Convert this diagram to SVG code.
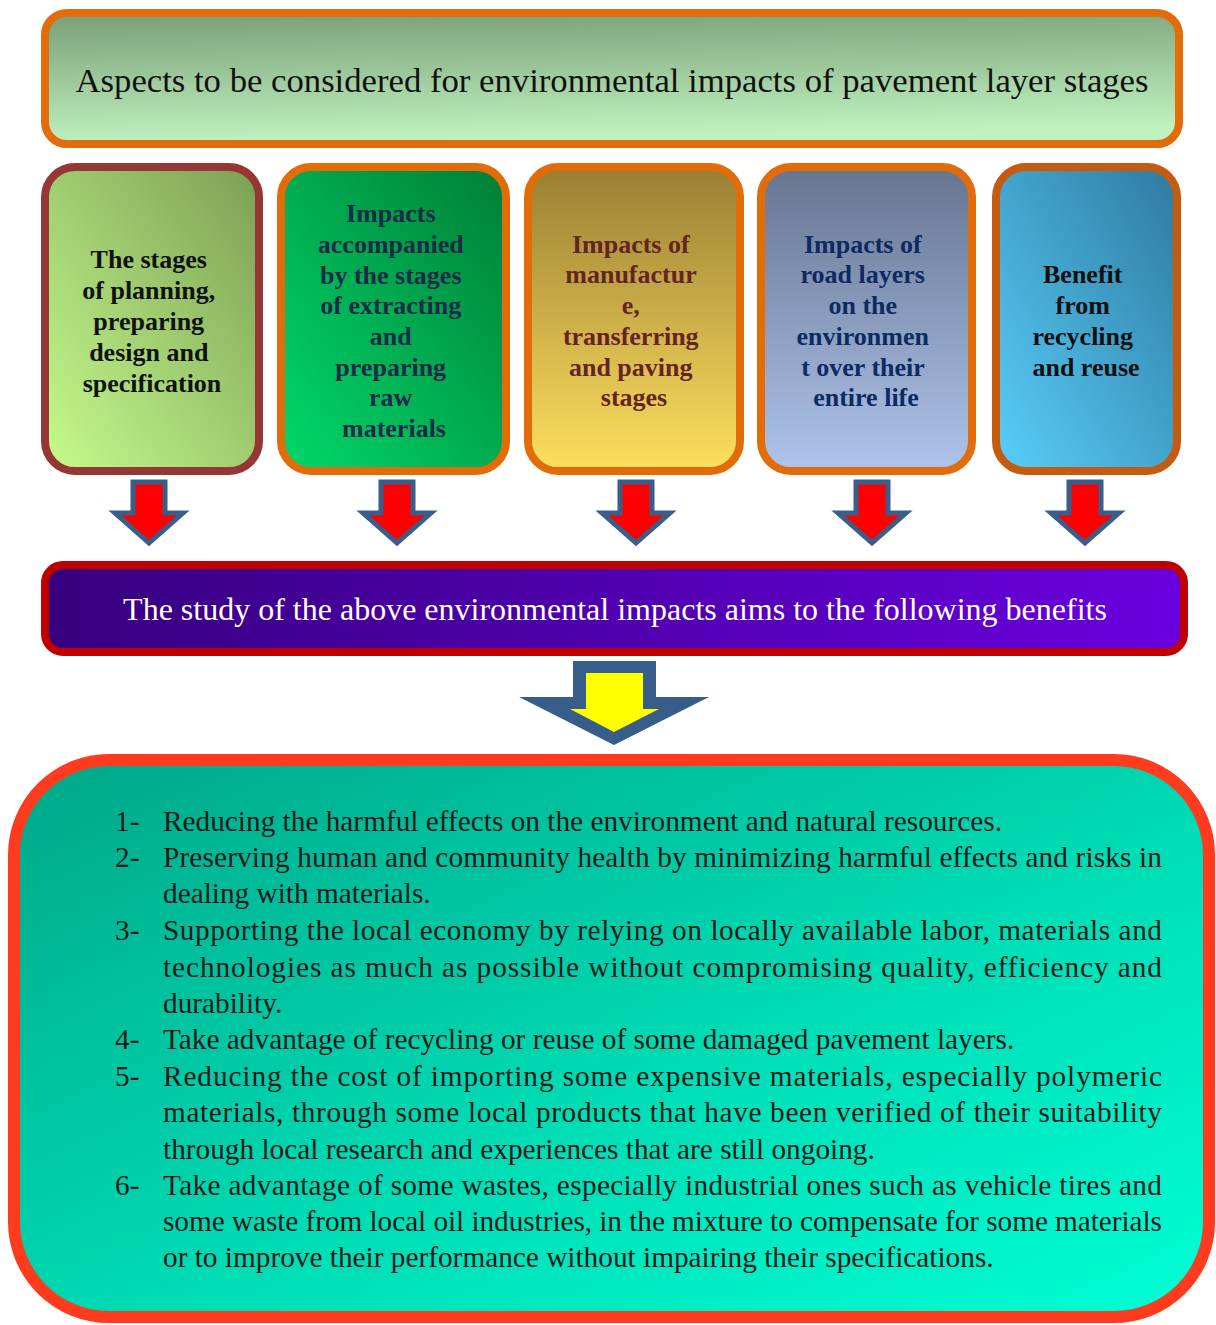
<svg xmlns="http://www.w3.org/2000/svg" width="1216" height="1325" viewBox="0 0 1216 1325">
  <defs>
    <linearGradient id="gHeader" x1="0" y1="0" x2="0.15" y2="1">
      <stop offset="0" stop-color="#7a9e77"/>
      <stop offset="1" stop-color="#c0f2c0"/>
    </linearGradient>
    <linearGradient id="gPlan" x1="0" y1="1" x2="1" y2="0">
      <stop offset="0" stop-color="#c6fb8c"/>
      <stop offset="1" stop-color="#7b9f55"/>
    </linearGradient>
    <linearGradient id="gRaw" x1="0" y1="1" x2="1" y2="0">
      <stop offset="0" stop-color="#00d96a"/>
      <stop offset="1" stop-color="#007e36"/>
    </linearGradient>
    <linearGradient id="gManu" x1="0" y1="0" x2="0" y2="1">
      <stop offset="0" stop-color="#9a7f34"/>
      <stop offset="1" stop-color="#ffdf5e"/>
    </linearGradient>
    <linearGradient id="gLife" x1="0" y1="0" x2="0" y2="1">
      <stop offset="0" stop-color="#66758f"/>
      <stop offset="1" stop-color="#aec4ec"/>
    </linearGradient>
    <linearGradient id="gReuse" x1="0" y1="1" x2="1" y2="0">
      <stop offset="0" stop-color="#58cefb"/>
      <stop offset="1" stop-color="#2f7a9e"/>
    </linearGradient>
    <linearGradient id="gStudy" x1="0" y1="0" x2="1" y2="0">
      <stop offset="0" stop-color="#36007e"/>
      <stop offset="1" stop-color="#6a00de"/>
    </linearGradient>
    <linearGradient id="gBenefits" x1="0" y1="0" x2="1" y2="1">
      <stop offset="0" stop-color="#00a688"/>
      <stop offset="0.55" stop-color="#00dcb4"/>
      <stop offset="1" stop-color="#00ffd6"/>
    </linearGradient>
  </defs>
  <style>
    .serif { font-family: "Liberation Serif", "Times New Roman", serif; }
    .box { stroke-width: 8; }
    .bold { font-family: "Liberation Serif", "Times New Roman", serif; font-weight: bold; font-size: 26px; text-anchor: middle; }
    .arrow-small { fill: #ff0000; stroke: #3a5e8a; stroke-width: 5; stroke-linejoin: miter; }
    .item { font-family: "Liberation Serif", "Times New Roman", serif; font-size: 29.3px; fill: #1a1a1a; }
  </style>

  <!-- title banner -->
  <g id="header">
    <rect x="45" y="13" width="1134" height="131" rx="22" fill="url(#gHeader)" stroke="#e36c0a" class="box"/>
    <text x="612" y="92" class="serif" font-size="34.7" text-anchor="middle" fill="#111">Aspects to be considered for environmental impacts of pavement layer stages</text>
  </g>

  <!-- five aspect boxes -->
  <g id="planning">
    <rect x="45" y="167" width="214" height="304" rx="30" fill="url(#gPlan)" stroke="#953735" class="box"/>
    <text class="bold" fill="#111">
      <tspan x="152" y="268">The stages</tspan>
      <tspan x="152" y="299">of planning,</tspan>
      <tspan x="152" y="330">preparing</tspan>
      <tspan x="152" y="361">design and</tspan>
      <tspan x="152" y="392">specification</tspan>
    </text>
  </g>

  <g id="extracting">
    <rect x="281" y="167" width="225" height="304" rx="30" fill="url(#gRaw)" stroke="#e36c0a" class="box"/>
    <text class="bold" fill="#1b2a47">
      <tspan x="394" y="222">Impacts</tspan>
      <tspan x="394" y="253">accompanied</tspan>
      <tspan x="394" y="284">by the stages</tspan>
      <tspan x="394" y="314">of extracting</tspan>
      <tspan x="394" y="345">and</tspan>
      <tspan x="394" y="376">preparing</tspan>
      <tspan x="394" y="406">raw</tspan>
      <tspan x="394" y="437">materials</tspan>
    </text>
  </g>

  <g id="manufacture">
    <rect x="528" y="167" width="212" height="304" rx="30" fill="url(#gManu)" stroke="#e36c0a" class="box"/>
    <text class="bold" fill="#632523">
      <tspan x="634" y="253">Impacts of</tspan>
      <tspan x="634" y="283">manufactur</tspan>
      <tspan x="634" y="314">e,</tspan>
      <tspan x="634" y="345">transferring</tspan>
      <tspan x="634" y="376">and paving</tspan>
      <tspan x="634" y="406">stages</tspan>
    </text>
  </g>

  <g id="lifetime">
    <rect x="761" y="167" width="211" height="304" rx="30" fill="url(#gLife)" stroke="#e36c0a" class="box"/>
    <text class="bold" fill="#0e2a63">
      <tspan x="866" y="253">Impacts of</tspan>
      <tspan x="866" y="283">road layers</tspan>
      <tspan x="866" y="314">on the</tspan>
      <tspan x="866" y="345">environmen</tspan>
      <tspan x="866" y="376">t over their</tspan>
      <tspan x="866" y="406">entire life</tspan>
    </text>
  </g>

  <g id="recycling">
    <rect x="996" y="167" width="181" height="304" rx="30" fill="url(#gReuse)" stroke="#c55a11" class="box"/>
    <text class="bold" fill="#111">
      <tspan x="1086" y="283">Benefit</tspan>
      <tspan x="1086" y="314">from</tspan>
      <tspan x="1086" y="345">recycling</tspan>
      <tspan x="1086" y="376">and reuse</tspan>
    </text>
  </g>

  <!-- downward block arrows -->
  <g id="connectors">
    <path class="arrow-small" d="M133 482 H165 V513 H183 L149 543 L115 513 H133 Z"/>
    <path class="arrow-small" d="M381 482 H413 V513 H431 L397 543 L363 513 H381 Z"/>
    <path class="arrow-small" d="M620 482 H652 V513 H670 L636 543 L602 513 H620 Z"/>
    <path class="arrow-small" d="M856 482 H888 V513 H906 L872 543 L838 513 H856 Z"/>
    <path class="arrow-small" d="M1069 482 H1101 V513 H1119 L1085 543 L1051 513 H1069 Z"/>
    <polygon points="573,661 656,661 656,697 709,697 614,745 519,697 573,697" fill="#375d8a"/>
    <polygon points="586,673 643,673 643,709 659,709 614,732 570,709 586,709" fill="#ffff00"/>
  </g>

  <!-- summary bar -->
  <g id="study">
    <rect x="45" y="565" width="1139" height="87" rx="18" fill="url(#gStudy)" stroke="#c00000" class="box"/>
    <text x="615" y="620" class="serif" font-size="32" text-anchor="middle" fill="#ffffff">The study of the above environmental impacts aims to the following benefits</text>
  </g>

  <!-- list of benefits -->
  <g id="benefits">
    <rect x="14" y="760" width="1195" height="557" rx="95" fill="url(#gBenefits)" stroke="#ff3b1f" stroke-width="12"/>
    <text class="item" x="115" y="831">1-</text>
    <text class="item" x="163" y="831">Reducing the harmful effects on the environment and natural resources.</text>
    <text class="item" x="115" y="867">2-</text>
    <text class="item" x="163" y="867" textLength="999" lengthAdjust="spacing">Preserving human and community health by minimizing harmful effects and risks in</text>
    <text class="item" x="163" y="903">dealing with materials.</text>
    <text class="item" x="115" y="940">3-</text>
    <text class="item" x="163" y="940" textLength="999" lengthAdjust="spacing">Supporting the local economy by relying on locally available labor, materials and</text>
    <text class="item" x="163" y="977" textLength="999" lengthAdjust="spacing">technologies as much as possible without compromising quality, efficiency and</text>
    <text class="item" x="163" y="1013">durability.</text>
    <text class="item" x="115" y="1049">4-</text>
    <text class="item" x="163" y="1049">Take advantage of recycling or reuse of some damaged pavement layers.</text>
    <text class="item" x="115" y="1086">5-</text>
    <text class="item" x="163" y="1086" textLength="999" lengthAdjust="spacing">Reducing the cost of importing some expensive materials, especially polymeric</text>
    <text class="item" x="163" y="1122" textLength="999" lengthAdjust="spacing">materials, through some local products that have been verified of their suitability</text>
    <text class="item" x="163" y="1159">through local research and experiences that are still ongoing.</text>
    <text class="item" x="115" y="1195" fill="#1f497d">6-</text>
    <text class="item" x="163" y="1195" textLength="999" lengthAdjust="spacing">Take advantage of some wastes, especially industrial ones such as vehicle tires and</text>
    <text class="item" x="163" y="1231" textLength="999" lengthAdjust="spacing">some waste from local oil industries, in the mixture to compensate for some materials</text>
    <text class="item" x="163" y="1267">or to improve their performance without impairing their specifications.</text>
  </g>
</svg>
